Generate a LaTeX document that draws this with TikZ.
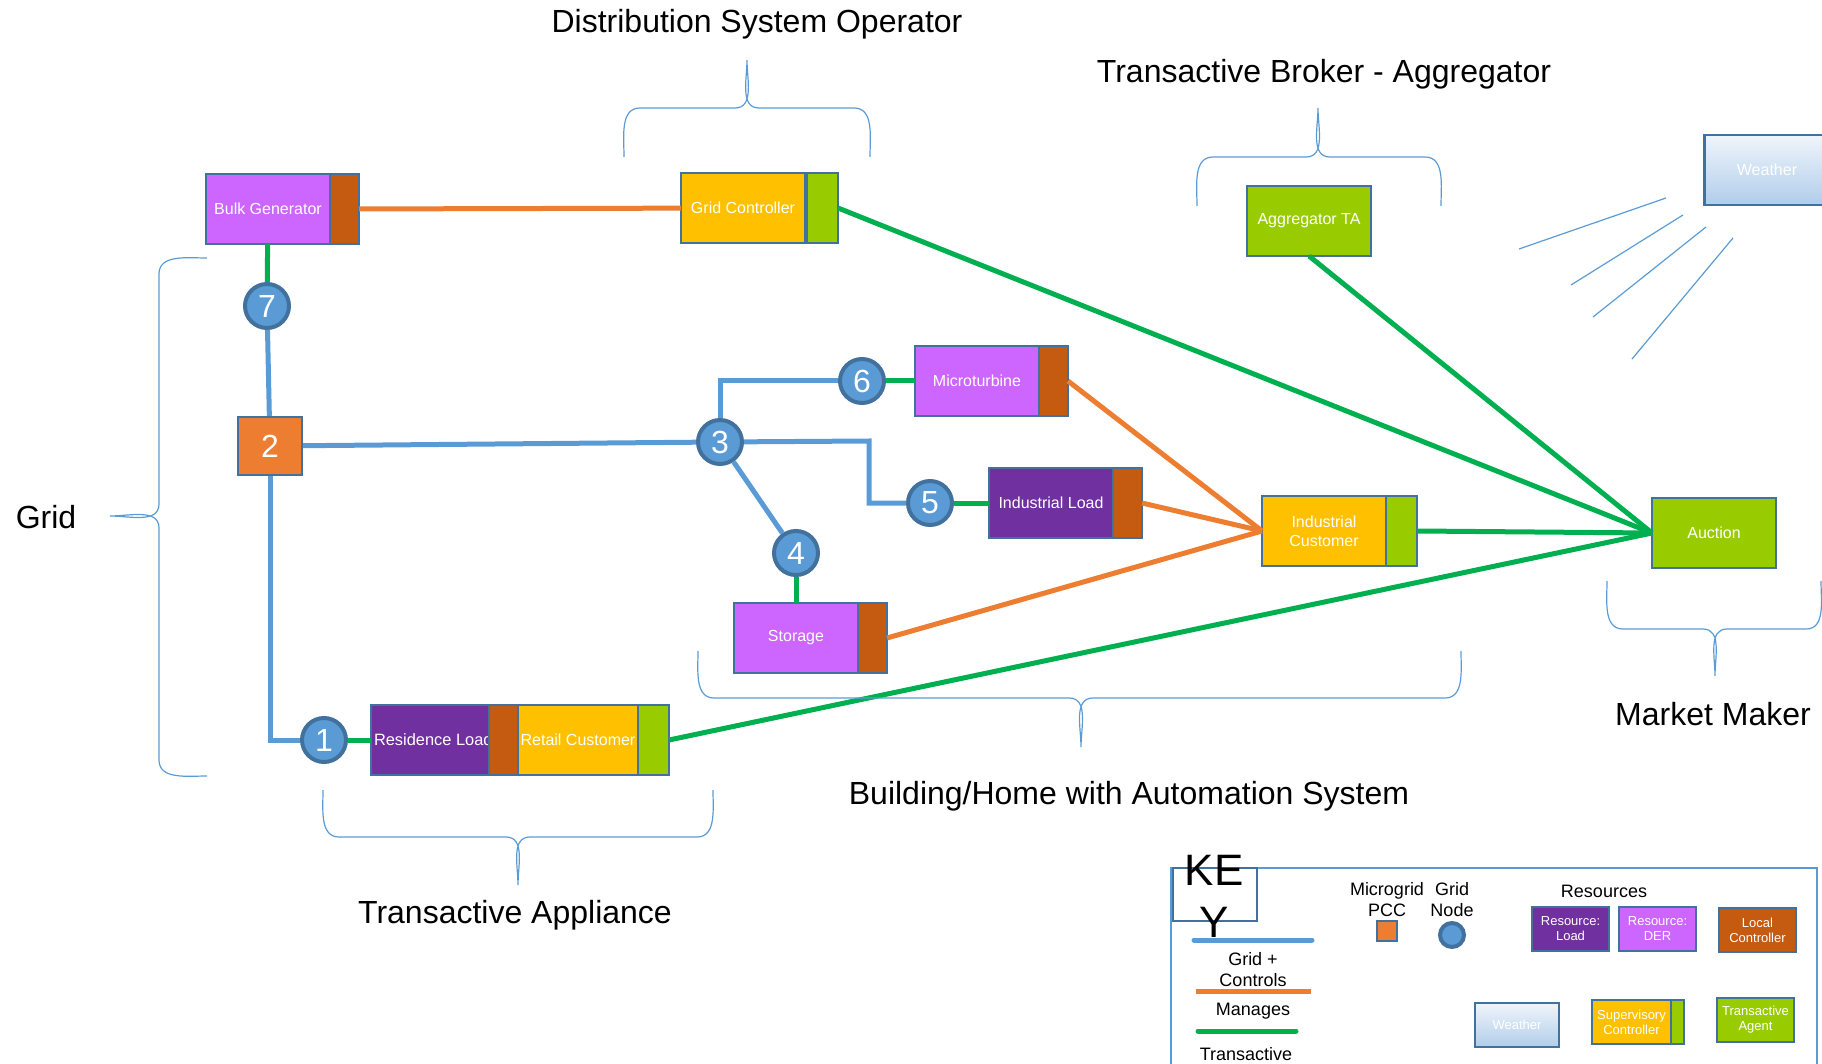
\documentclass[tikz,border=0pt]{standalone}
\usepackage{fontspec}
\setmainfont{Liberation Sans}
\usetikzlibrary{positioning}
\definecolor{boxline}{RGB}{65,113,156}
\definecolor{gridblue}{RGB}{91,155,213}
\definecolor{mgorange}{RGB}{237,125,49}
\definecolor{txgreen}{RGB}{0,176,80}
\definecolor{derpurple}{RGB}{204,102,255}
\definecolor{loadpurple}{RGB}{112,48,160}
\definecolor{lcbrown}{RGB}{197,90,17}
\definecolor{supyellow}{RGB}{255,192,0}
\definecolor{tagreen}{RGB}{153,204,0}
\definecolor{weathertop}{RGB}{240,245,251}
\definecolor{weatherbot}{RGB}{176,205,234}

\begin{document}
\begin{tikzpicture}[x=0.5pt, y=-0.5pt,
    box/.style={draw=boxline, line width=1.2pt, outer sep=0pt, minimum width=62pt, minimum height=35pt, inner sep=0pt, text=white, align=center, font=\fontsize{8}{9.6}\selectfont},
    der/.style={box, fill=derpurple},
    load/.style={box, fill=loadpurple},
    lc/.style={box, fill=lcbrown, minimum width=14.5pt},
    sup/.style={box, fill=supyellow},
    ta/.style={box, fill=tagreen, minimum width=15.5pt},
    agent/.style={box, fill=tagreen},
    gnode/.style={circle, draw=boxline, line width=2pt, fill=gridblue, minimum size=22pt, inner sep=0pt, text=white, font=\fontsize{16}{16}\selectfont},
    grid/.style={draw=gridblue, line width=2.5pt},
    manages/.style={draw=mgorange, line width=2.5pt},
    trans/.style={draw=txgreen, line width=2.5pt},
    brace/.style={draw=gridblue, line width=0.6pt},
    title/.style={font=\fontsize{16}{19}\selectfont},
    keytext/.style={align=center, font=\fontsize{9}{10.5}\selectfont},
    keybox/.style={box, minimum width=38.5pt, minimum height=22pt, font=\fontsize{6.5}{7.5}\selectfont}]
    \useasboundingbox (0,0) rectangle (1822,1064);

    % Define nodes
    \node[der] (bulk) at (268,209) {Bulk Generator};
    \node[lc, right=0pt of bulk] (bulklc) {};
    \node[sup] (gridctl) at (743,208) {Grid Controller};
    \node[ta, right=1pt of gridctl] (gridctlta) {};
    \node[agent] (aggta) at (1309,221) {Aggregator TA};
    \node[agent] (auction) at (1714,533) {Auction};
    \node[box, minimum width=62.5pt, top color=weathertop, bottom color=weatherbot] (weather) at (1767,170) {Weather};

    \node[der] (micro) at (977,381) {Microturbine};
    \node[lc, right=0pt of micro] (microlc) {};
    \node[load] (indload) at (1051,503) {Industrial Load};
    \node[lc, right=0pt of indload] (indloadlc) {};
    \node[der] (storage) at (796,638) {Storage};
    \node[lc, right=0pt of storage] (storagelc) {};
    \node[sup] (indcust) at (1324,531) {Industrial\\Customer};
    \node[ta, right=0pt of indcust] (indcustta) {};
    \node[load, minimum width=59pt, font=\fontsize{8.2}{10}\selectfont] (resload) at (430,740) {\makebox[56pt][l]{Residence Load}};
    \node[lc, right=0pt of resload] (resloadlc) {};
    \node[sup, minimum width=60pt, right=0pt of resloadlc] (retail) {Retail Customer};
    \node[ta, right=0pt of retail] (retailta) {};

    % Grid nodes
    \node[gnode] (n7) at (267,306) {7};
    \node[gnode, rectangle, fill=mgorange, line width=1.2pt, minimum width=32pt, minimum height=29pt] (n2) at (270,446) {2};
    \node[gnode] (n3) at (720,442) {3};
    \node[gnode] (n6) at (862,381) {6};
    \node[gnode] (n5) at (930,503) {5};
    \node[gnode] (n4) at (796,553) {4};
    \node[gnode] (n1) at (324,740) {1};
    \coordinate (k5) at (869,441);

    % Grid + controls
    \draw[grid] (n7) -- (n2);
    \draw[grid] (n2) -- (n3);
    \draw[grid] (n2) |- (n1);
    \draw[grid] (n3) |- (n6);
    \draw[grid] (n3) -- (k5) |- (n5);
    \draw[grid] (n3) -- (n4);

    % Manages
    \draw[manages] (bulklc) -- (gridctl);
    \draw[manages] (microlc.east) -- (indcust.west);
    \draw[manages] (indloadlc.east) -- (indcust.west);
    \draw[manages] (storagelc.east) -- (indcust.west);

    % Transactive
    \draw[trans] (bulk) -- (n7);
    \draw[trans] (n6) -- (micro);
    \draw[trans] (n5) -- (indload);
    \draw[trans] (n4) -- (storage);
    \draw[trans] (n1) -- (resload);
    \draw[trans] (gridctlta.east) -- (auction.west);
    \draw[trans] (aggta.south) -- (auction.west);
    \draw[trans] (indcustta.east) -- (auction.west);
    \draw[trans] (retailta.east) -- (auction.west);

    % Weather rays
    \draw[brace] (1519,249) -- (1666,198) (1571,285) -- (1683,215)
        (1593,317) -- (1706,227) (1632,359) -- (1733,238);

    % Braces and their labels
    \draw[brace] (624,157) to[out=90,in=180] (640,108) -- (735,108) to[out=0,in=-90] (747,60)
        to[out=-90,in=180] (759,108) -- (854,108) to[out=0,in=90] (870,157);
    \draw[brace] (1197,206) to[out=90,in=180] (1213,157) -- (1306,157) to[out=0,in=-90] (1318,108)
        to[out=-90,in=180] (1330,157) -- (1425,157) to[out=0,in=90] (1441,206);
    \draw[brace] (207,258) to[out=180,in=90] (159,274) -- (159,504) to[out=-90,in=0] (110,516)
        to[out=0,in=90] (159,528) -- (159,760) to[out=-90,in=180] (207,776);
    \draw[brace] (1607,581) to[out=-90,in=180] (1623,629) -- (1703,629) to[out=0,in=90] (1715,676)
        to[out=90,in=180] (1727,629) -- (1806,629) to[out=0,in=-90] (1821,581);
    \draw[brace] (698,651) to[out=-90,in=180] (714,698) -- (1069,698) to[out=0,in=90] (1081,747)
        to[out=90,in=180] (1093,698) -- (1445,698) to[out=0,in=-90] (1461,651);
    \draw[brace] (323,790) to[out=-90,in=180] (339,837) -- (506,837) to[out=0,in=90] (518,885)
        to[out=90,in=180] (530,837) -- (697,837) to[out=0,in=-90] (713,790);

    \node[title] (dso) at (757,24) {Distribution System Operator};
    \node[title] (tba) at (1324,74) {Transactive Broker - Aggregator};
    \node[title] (gridlbl) at (46,517) {Grid};
    \node[title] (mm) at (1713,714) {Market Maker};
    \node[title] (bhas) at (1129,796) {Building/Home with Automation System};
    \node[title] (tapp) at (515,915) {Transactive Appliance};

    % Key
    \draw[draw=gridblue, line width=1pt] (1171,1064) |- (1817,868) -- (1817,1064);
    \node[draw=boxline, line width=1.2pt, minimum width=42pt, minimum height=26.5pt] (keyframe) at (1215,894.5) {};
    \node[align=center, font=\fontsize{22}{26}\selectfont] (keylbl) at (1214,896) {KE\\Y};
    \draw[grid, line cap=round] (1194,940) -- (1312,940);
    \node[keytext] (kgrid) at (1253,969.5) {Grid +\\Controls};
    \draw[manages] (1196,991) -- (1311,991);
    \node[keytext] (kman) at (1253,1011.5) {Manages};
    \draw[trans, line cap=round] (1198,1031) -- (1296,1031);
    \node[keytext] (ktrans) at (1246,1054.5) {Transactive};

    \node[keytext] (kpcc) at (1387,900) {Microgrid\\PCC};
    \node[draw=boxline, fill=mgorange, line width=1pt, minimum size=10pt, inner sep=0pt] (kpccbox) at (1387,930.5) {};
    \node[keytext] (knode) at (1452,900) {Grid\\Node};
    \node[gnode, minimum size=12pt] (knodecirc) at (1452,935) {};
    \node[keytext] (kres) at (1604,891) {Resources};
    \node[keybox, fill=loadpurple] (kload) at (1570.5,929) {Resource:\\Load};
    \node[keybox, fill=derpurple] (kder) at (1657.5,929) {Resource:\\DER};
    \node[keybox, fill=lcbrown] (klc) at (1757.5,930) {Local\\Controller};
    \node[keybox, minimum width=42pt, top color=weathertop, bottom color=weatherbot] (kweather) at (1517,1025) {Weather};
    \node[keybox, fill=supyellow, minimum width=39.5pt] (ksup) at (1631.5,1022) {Supervisory\\Controller};
    \node[keybox, fill=tagreen, minimum width=6.5pt, right=0pt of ksup] (ksupta) {};
    \node[keybox, fill=tagreen] (kagent) at (1755.5,1020) {Transactive\\Agent};
\end{tikzpicture}
\end{document}
